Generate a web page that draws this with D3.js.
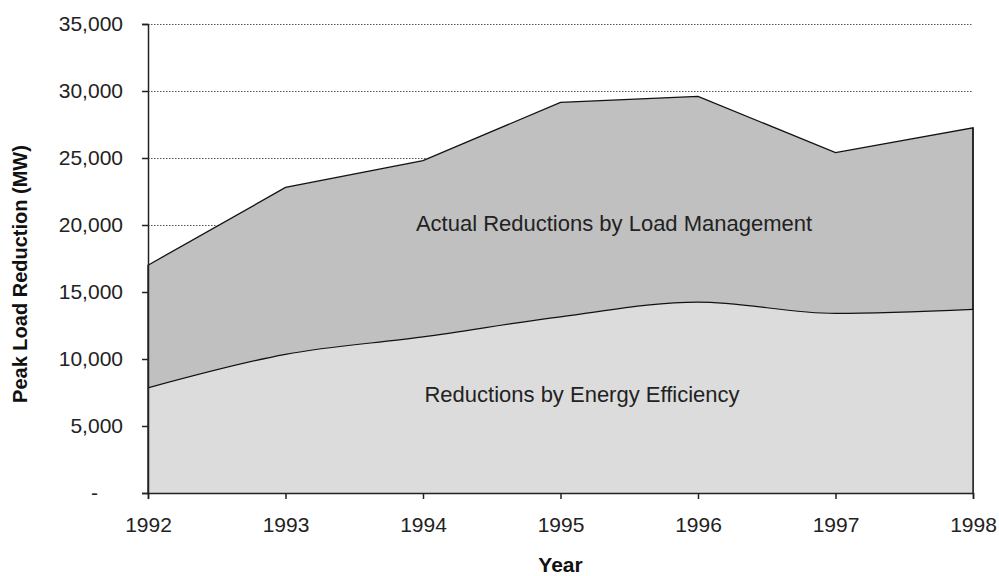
<!DOCTYPE html>
<html>
<head>
<meta charset="utf-8">
<script src="https://cdn.jsdelivr.net/npm/d3@7"></script>
<style>
  html, body { margin: 0; padding: 0; background: #fff; }
  svg { display: block; font-family: "Liberation Sans", Arial, sans-serif; }
</style>
</head>
<body>
<svg id="chart" width="999" height="576"></svg>
<script>
const years = [1992, 1993, 1994, 1995, 1996, 1997, 1998];
// MW of peak load reduction
const energyEfficiency = [7850, 10350, 11650, 13150, 14250, 13400, 13700];
const loadManagement = [9150, 12450, 13150, 16000, 15350, 12000, 13550];
const yTicks = [0, 5000, 10000, 15000, 20000, 25000, 30000, 35000];

const svg = d3.select('#chart');
const plot = { left: 148, right: 973, top: 24, bottom: 493 };

const x = d3.scaleLinear().domain([1992, 1998]).range([plot.left, plot.right]);
const y = d3.scaleLinear().domain([0, 35000]).range([plot.bottom, plot.top]);

const rows = years.map((yr, i) => ({ year: yr, eff: energyEfficiency[i], load: loadManagement[i] }));
const stacked = d3.stack().keys(['eff', 'load'])(rows);

// gridlines
svg.append('g')
  .selectAll('line')
  .data(yTicks.filter((d) => d > 0))
  .join('line')
  .attr('x1', plot.left).attr('x2', plot.right)
  .attr('y1', (d) => y(d) + 0.5).attr('y2', (d) => y(d) + 0.5)
  .attr('stroke', '#555')
  .attr('stroke-width', 1)
  .attr('stroke-dasharray', '1.5,1.5');

// total area (load management on top)
const totalArea = d3.area()
  .x((d) => x(d.data.year))
  .y0(plot.bottom)
  .y1((d) => y(d[1]));
svg.append('path')
  .datum(stacked[1])
  .attr('d', totalArea)
  .attr('fill', '#c0c0c0')
  .attr('stroke', '#111')
  .attr('stroke-width', 1.3);

// energy efficiency area
const effArea = d3.area()
  .curve(d3.curveMonotoneX)
  .x((d) => x(d.data.year))
  .y0(plot.bottom)
  .y1((d) => y(d[1]));
svg.append('path')
  .datum(stacked[0])
  .attr('d', effArea)
  .attr('fill', '#dcdcdc');
svg.append('path')
  .datum(stacked[0])
  .attr('d', d3.line().curve(d3.curveMonotoneX).x((d) => x(d.data.year)).y((d) => y(d[1])))
  .attr('fill', 'none')
  .attr('stroke', '#111')
  .attr('stroke-width', 1.2);

// right edge line
svg.append('line')
  .attr('x1', x(1998)).attr('x2', x(1998))
  .attr('y1', y(stacked[1][6][1])).attr('y2', plot.bottom)
  .attr('stroke', '#111').attr('stroke-width', 1.3);

// axes
const yAxis = d3.axisLeft(y)
  .tickValues(yTicks)
  .tickSize(6)
  .tickPadding(19)
  .tickFormat((d) => (d === 0 ? '-' : d3.format(',')(d)));
const gy = svg.append('g').attr('transform', `translate(${plot.left},0)`).call(yAxis);

const xAxis = d3.axisBottom(x)
  .tickValues(years)
  .tickSize(6)
  .tickPadding(18)
  .tickFormat(d3.format('d'));
const gx = svg.append('g').attr('transform', `translate(0,${plot.bottom})`).call(xAxis);

[gx, gy].forEach((g) => {
  g.select('.domain').attr('stroke', '#222').attr('stroke-width', 1.5);
  g.selectAll('.tick line').attr('stroke', '#222').attr('stroke-width', 1.5);
  g.selectAll('.tick text')
    .attr('fill', '#222')
    .style('font-size', '21px')
    .style('font-family', '"Liberation Sans", Arial, sans-serif');
});
gy.selectAll('.tick text').filter((d) => d === 0).attr('dx', -25);

// series labels
svg.append('text')
  .attr('x', 614).attr('y', 231)
  .attr('text-anchor', 'middle')
  .attr('fill', '#222')
  .style('font-size', '22px')
  .text('Actual Reductions by Load Management');
svg.append('text')
  .attr('x', 582).attr('y', 402)
  .attr('text-anchor', 'middle')
  .attr('fill', '#222')
  .style('font-size', '22px')
  .text('Reductions by Energy Efficiency');

// axis titles
svg.append('text')
  .attr('transform', 'translate(27,274) rotate(-90)')
  .attr('text-anchor', 'middle')
  .attr('fill', '#111')
  .style('font-size', '20px')
  .style('font-weight', 'bold')
  .text('Peak Load Reduction (MW)');
svg.append('text')
  .attr('x', (plot.left + plot.right) / 2).attr('y', 572)
  .attr('text-anchor', 'middle')
  .attr('fill', '#111')
  .style('font-size', '21px')
  .style('font-weight', 'bold')
  .text('Year');
</script>
</body>
</html>
